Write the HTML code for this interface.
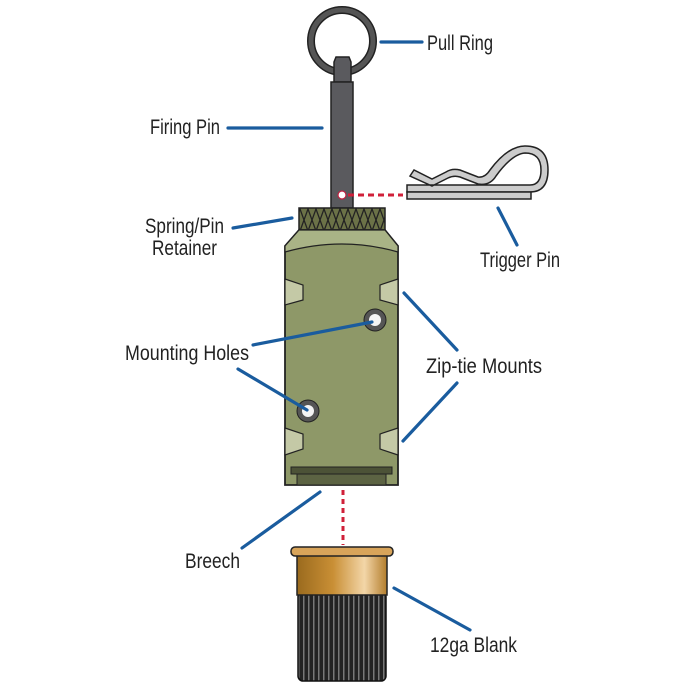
<!DOCTYPE html>
<html><head><meta charset="utf-8"><style>html,body{margin:0;padding:0;background:#fff}svg{display:block}</style></head>
<body>
<svg width="700" height="700" viewBox="0 0 700 700" xmlns="http://www.w3.org/2000/svg" font-family="'Liberation Sans Narrow','Liberation Sans',sans-serif" font-size="21" fill="#222">
<defs>
<linearGradient id="brass" x1="0" x2="1"><stop offset="0" stop-color="#9a6a1e"/><stop offset="0.4" stop-color="#c98f35"/><stop offset="0.75" stop-color="#f3d6a8"/><stop offset="1" stop-color="#b37d2c"/></linearGradient>
<pattern id="rib" width="5" height="10" patternUnits="userSpaceOnUse"><rect width="5" height="10" fill="#222"/><rect x="3" width="1.5" height="10" fill="#777"/></pattern>
<pattern id="knurl" width="8" height="22" patternUnits="userSpaceOnUse"><rect width="8" height="22" fill="#6b7247"/><path d="M0 0L8 22M8 0L0 22" stroke="#222" stroke-width="1.3"/></pattern>
</defs>
<!-- ring -->
<circle cx="342" cy="41" r="31" fill="none" stroke="#222" stroke-width="8"/>
<circle cx="342" cy="41" r="31" fill="none" stroke="#555" stroke-width="5"/>
<!-- pin -->
<path d="M334 62 L336 57 H349 L351 62 V82 H334Z" fill="#5a5a5e" stroke="#222" stroke-width="1.5"/>
<rect x="331" y="82" width="22" height="126" fill="#5a5a5e" stroke="#222" stroke-width="1.5"/>
<circle cx="342" cy="195" r="4" fill="#fff" stroke="#c02040" stroke-width="1.2"/>
<!-- red dotted -->
<line x1="348" y1="195" x2="403" y2="195" stroke="#d0203a" stroke-width="3" stroke-dasharray="6,4"/>
<line x1="343" y1="490" x2="343" y2="545" stroke="#d0203a" stroke-width="3" stroke-dasharray="5,4"/>
<!-- trigger pin -->
<path d="M407 192 H530 Q548 192 548 170 Q548 146 525 146 Q508 146 490 170 Q485 178 478 177 L460 170 Q452 168 446 172 L432 179 L414 170 L410 176 L432 186 L448 178 Q454 175 460 177 L478 184 Q490 186 496 176 Q512 154 525 153 Q541 153 541 170 Q541 185 530 185 H407Z" fill="#ccc" stroke="#222" stroke-width="1.5"/>
<rect x="407" y="192" width="124" height="7" fill="#ccc" stroke="#222" stroke-width="1.5"/>
<!-- knurl retainer -->
<rect x="299" y="208" width="86" height="22" fill="url(#knurl)" stroke="#222" stroke-width="1.5"/>
<!-- body -->
<path d="M299 230 H385 L398 246 V485 H285 V246Z" fill="#8e9868" stroke="#222" stroke-width="1.8"/>
<path d="M299 230 H385 L398 246 V252 Q342 236 285 252 V246Z" fill="#a9b386" stroke="#222" stroke-width="1.2"/>
<!-- slots -->
<g fill="#c4c9a6" stroke="#222" stroke-width="1.2">
<path d="M285 279 L303 285 V300 L285 305Z"/><path d="M398 279 L380 285 V300 L398 305Z"/>
<path d="M285 428 L303 434 V449 L285 455Z"/><path d="M398 428 L380 434 V449 L398 455Z"/>
</g>
<!-- holes -->
<circle cx="375" cy="320" r="11" fill="#555" stroke="#222"/><circle cx="375" cy="320" r="6" fill="#f4f4f4"/>
<circle cx="308" cy="411" r="11" fill="#555" stroke="#222"/><circle cx="308" cy="411" r="6" fill="#f4f4f4"/>
<!-- breech strip -->
<rect x="291" y="467" width="101" height="7" fill="#4c5237" stroke="#222"/>
<rect x="297" y="474" width="89" height="11" fill="#5c6343" stroke="#222"/>
<!-- blank -->
<rect x="298" y="592" width="88" height="89" rx="5" fill="url(#rib)" stroke="#111" stroke-width="1.5"/>
<rect x="297" y="555" width="90" height="40" fill="url(#brass)" stroke="#222" stroke-width="1.5"/>
<rect x="291" y="547" width="102" height="9" rx="4" fill="#d8a45a" stroke="#222" stroke-width="1.5"/>
<!-- leader lines -->
<g stroke="#1a5c9e" stroke-width="3.2" fill="none" stroke-linecap="round">
<line x1="381" y1="42" x2="422" y2="42"/>
<line x1="228" y1="128" x2="322" y2="128"/>
<line x1="233" y1="228" x2="292" y2="218"/>
<line x1="498" y1="208" x2="517" y2="245"/>
<line x1="253" y1="345" x2="372" y2="322"/>
<line x1="238" y1="369" x2="307" y2="410"/>
<line x1="404" y1="293" x2="457" y2="350"/>
<line x1="457" y1="383" x2="403" y2="441"/>
<line x1="242" y1="548" x2="320" y2="492"/>
<line x1="394" y1="588" x2="470" y2="630"/>
</g>
<!-- labels -->
<text x="427" y="50" textLength="66" lengthAdjust="spacingAndGlyphs">Pull Ring</text>
<text x="150" y="134" textLength="70" lengthAdjust="spacingAndGlyphs">Firing Pin</text>
<text x="145" y="233" textLength="79" lengthAdjust="spacingAndGlyphs">Spring/Pin</text>
<text x="152" y="255" textLength="65" lengthAdjust="spacingAndGlyphs">Retainer</text>
<text x="480" y="267" textLength="80" lengthAdjust="spacingAndGlyphs">Trigger Pin</text>
<text x="125" y="360" textLength="124" lengthAdjust="spacingAndGlyphs">Mounting Holes</text>
<text x="426" y="373" textLength="116" lengthAdjust="spacingAndGlyphs">Zip-tie Mounts</text>
<text x="185" y="568" textLength="55" lengthAdjust="spacingAndGlyphs">Breech</text>
<text x="430" y="652" textLength="87" lengthAdjust="spacingAndGlyphs">12ga Blank</text>
</svg>
</body></html>
